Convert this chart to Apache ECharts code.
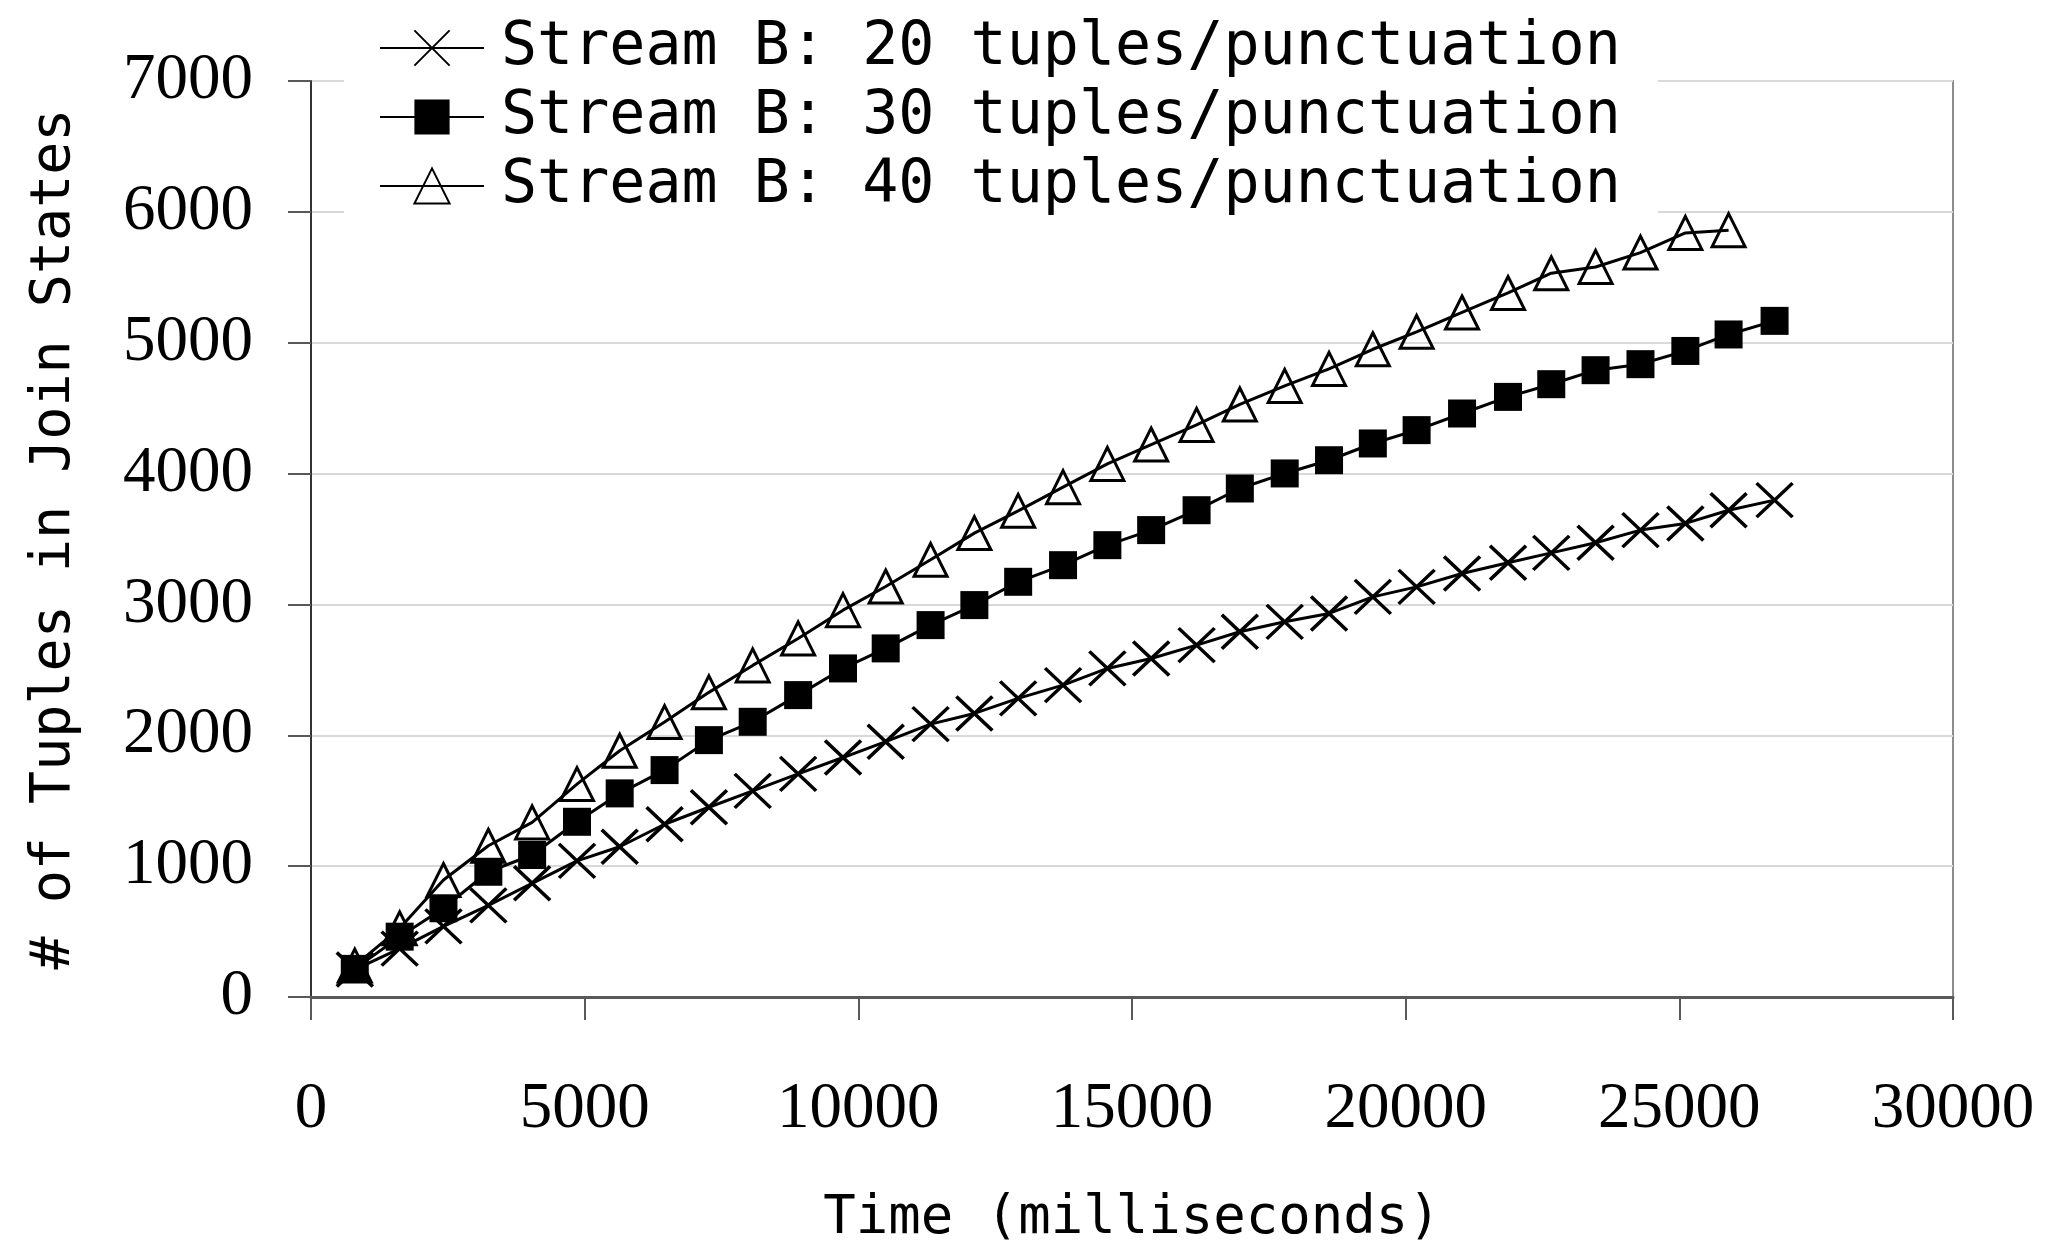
<!DOCTYPE html>
<html>
<head>
<meta charset="utf-8">
<title>Tuples in Join States</title>
<script src="https://cdn.jsdelivr.net/npm/echarts/dist/echarts.min.js"></script>
<style>
  html, body { margin: 0; padding: 0; background: #fff; }
  #chart { width: 2059px; height: 1244px; }
</style>
</head>
<body>
<div id="chart"></div>
<script>
// sample times (ms), shared by the three runs
var times = [800, 1620, 2420, 3240, 4040, 4860, 5640, 6460, 7270, 8070,
  8900, 9720, 10500, 11320, 12120, 12920, 13740, 14550, 15350, 16180,
  16970, 17790, 18600, 19400, 20200, 21030, 21870, 22660, 23470, 24290,
  25110, 25900, 26740];

var seriesNames = [
  'Stream B: 20 tuples/punctuation',
  'Stream B: 30 tuples/punctuation',
  'Stream B: 40 tuples/punctuation'
];

var tuples20 = [210, 370, 540, 700, 869, 1040, 1148, 1320, 1450, 1575,
  1705, 1830, 1951, 2085, 2167, 2282, 2383, 2511, 2587, 2689,
  2791, 2867, 2931, 3058, 3134, 3236, 3318, 3394, 3471, 3568,
  3619, 3720, 3797];

var tuples30 = [215, 461, 678, 957, 1085, 1339, 1556, 1734, 1963, 2103,
  2307, 2511, 2664, 2842, 2995, 3173, 3300, 3453, 3568, 3720,
  3886, 4001, 4102, 4230, 4332, 4459, 4586, 4683, 4790, 4836,
  4937, 5063, 5167];

var tuples40 = [240, 525, 894, 1156, 1334, 1627, 1882, 2101, 2328, 2534,
  2740, 2956, 3137, 3341, 3545, 3715, 3896, 4074, 4222, 4372,
  4528, 4670, 4800, 4950, 5083, 5231, 5380, 5531, 5579, 5689,
  5839, 5860];

function pairs(vals) {
  return vals.map(function (v, i) { return [times[i], v]; });
}

// plain integers, no thousands separator
function plain(v) { return String(v); }

var crossPath = 'path://M0,0L10,10M10,0L0,10';
var labelFont = 'Liberation Serif';
var textFont = 'DejaVu Sans Mono';

var chart = echarts.init(document.getElementById('chart'));

var option = {
  animation: false,
  backgroundColor: '#fff',
  grid: {
    left: 311,
    top: 81,
    right: 106,
    bottom: 247,
    outerBoundsMode: 'none',
    containLabel: false,
    show: true,
    borderColor: '#8c8c8c',
    borderWidth: 2
  },
  legend: {
    orient: 'vertical',
    left: 344,
    top: 0,
    padding: [18, 37, 5, 35],
    backgroundColor: '#fff',
    itemWidth: 104,
    itemHeight: 44,
    itemGap: 9,
    data: seriesNames,
    textStyle: {
      fontFamily: textFont,
      fontSize: 60,
      color: '#000',
      padding: [0, 0, 0, 12]
    }
  },
  xAxis: {
    type: 'value',
    min: 0,
    max: 30000,
    interval: 5000,
    name: 'Time (milliseconds)',
    nameLocation: 'middle',
    nameGap: 195,
    nameTextStyle: { fontFamily: textFont, fontSize: 54, color: '#000' },
    axisLine: { show: true, lineStyle: { color: '#595959', width: 3 } },
    axisTick: { show: true, length: 23, lineStyle: { color: '#595959', width: 2 } },
    axisLabel: { margin: 80, fontFamily: labelFont, fontSize: 65, color: '#000', formatter: plain },
    splitLine: { show: false }
  },
  yAxis: {
    type: 'value',
    min: 0,
    max: 7000,
    interval: 1000,
    name: '# of Tuples in Join States',
    nameLocation: 'middle',
    nameGap: 229,
    nameTextStyle: { fontFamily: textFont, fontSize: 55, color: '#000' },
    axisLine: { show: true, lineStyle: { color: '#333', width: 2 } },
    axisTick: { show: true, length: 23, lineStyle: { color: '#595959', width: 2 } },
    axisLabel: { margin: 58, fontFamily: labelFont, fontSize: 65, color: '#000', formatter: plain },
    splitLine: { show: true, lineStyle: { color: '#d9d9d9', width: 2 } }
  },
  series: [
    {
      name: seriesNames[0],
      type: 'line',
      data: pairs(tuples20),
      symbol: crossPath,
      symbolSize: [36, 34],
      itemStyle: { color: '#000', borderColor: '#000', borderWidth: 3.5 },
      lineStyle: { color: '#000', width: 3 }
    },
    {
      name: seriesNames[1],
      type: 'line',
      data: pairs(tuples30),
      symbol: 'rect',
      symbolSize: 28,
      itemStyle: { color: '#000', borderColor: '#000', borderWidth: 0 },
      lineStyle: { color: '#000', width: 3 }
    },
    {
      name: seriesNames[2],
      type: 'line',
      data: pairs(tuples40),
      symbol: 'triangle',
      symbolSize: 33,
      itemStyle: { color: 'none', borderColor: '#000', borderWidth: 3 },
      lineStyle: { color: '#000', width: 3 }
    }
  ]
};

chart.setOption(option);
</script>
</body>
</html>
